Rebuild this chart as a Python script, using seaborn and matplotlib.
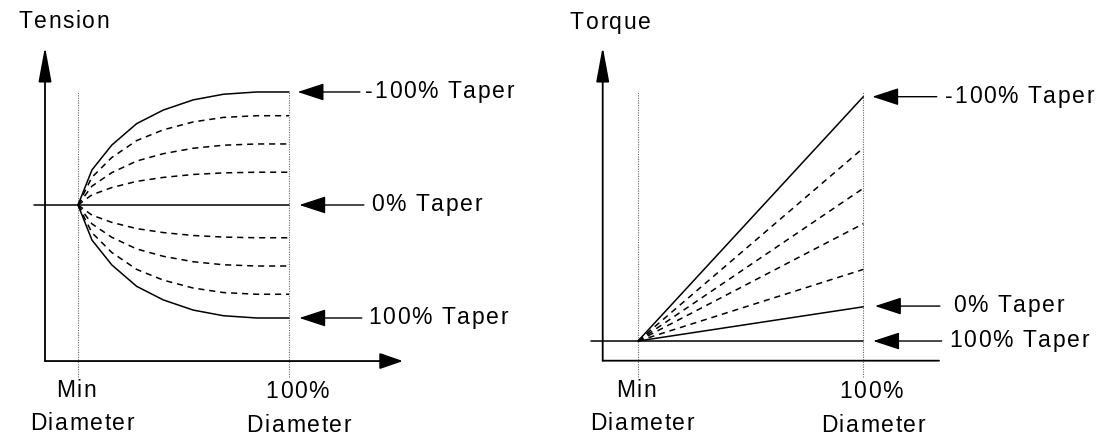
import pandas as pd
import seaborn as sns
import matplotlib
matplotlib.use('Agg')
import matplotlib.pyplot as plt
from matplotlib.font_manager import FontProperties, findfont
from matplotlib.ft2font import FT2Font
from matplotlib.transforms import ScaledTranslation

# diameter axis: 0 = min diameter, 1 = 100% diameter
diameter = [0.0, 0.066, 0.16, 0.278, 0.404, 0.546, 0.689, 0.847, 1.0]

# tension curves (1 = -100% taper at full diameter)
tension_m100 = [0.0, 0.31, 0.53, 0.72, 0.84, 0.93, 0.98, 1.0, 1.0]
tension_m75 = [0.0, 0.245, 0.42, 0.57, 0.665, 0.735, 0.775, 0.79, 0.79]
tension_m50 = [0.0, 0.167, 0.286, 0.389, 0.454, 0.502, 0.529, 0.54, 0.54]
tension_m25 = [0.0, 0.09, 0.154, 0.209, 0.244, 0.27, 0.284, 0.29, 0.29]
tension_p25 = [0.0, -0.09, -0.154, -0.209, -0.244, -0.27, -0.284, -0.29, -0.29]
tension_p50 = [0.0, -0.167, -0.286, -0.389, -0.454, -0.502, -0.529, -0.54, -0.54]
tension_p75 = [0.0, -0.245, -0.42, -0.57, -0.665, -0.735, -0.775, -0.79, -0.79]
tension_p100 = [0.0, -0.31, -0.53, -0.72, -0.84, -0.93, -0.98, -1.0, -1.0]

# flat lines start left of the vertical axis
flat_diameter = [-0.21, 1.0]
tension_0 = [0.0, 0.0]

# torque: straight lines from min diameter to 100% diameter
torque_diameter = [0.0, 1.0]
torque_start = 0.0
torque_end = [1.0, 0.79, 0.625, 0.48, 0.293, 0.14]
torque_kind = ['solid', 'dashed', 'dashed', 'dashed', 'dashed', 'solid']
torque_100 = [0.0, 0.0]

tension_labels = ['-100% Taper', '0% Taper', '100% Taper']
torque_labels = ['-100% Taper', '0% Taper', '100% Taper']
tension_label_y = [1.0, 0.0, -1.0]
torque_label_y = [1.0, 0.143, 0.0]

sns.set_style('white')
plt.rcParams['font.family'] = ['Liberation Sans', 'DejaVu Sans']

SIZE = 16.5
FONT = FontProperties(family='Liberation Sans', size=SIZE)
ft = FT2Font(findfont(FONT))
ft.set_size(SIZE, 72)


def advance(ch):
    return ft.load_char(ord(ch)).linearHoriAdvance / 65536


def spaced_text(ax, x, y, s, ha='left', dy=0.0, track=1.2):
    # the reference uses letter-spaced type, so place glyph by glyph
    widths = [advance(c) for c in s]
    total = sum(widths) + track * (len(s) - 1)
    x0 = -total / 2 if ha == 'center' else 0.0
    for c, w in zip(s, widths):
        if c != ' ':
            off = ScaledTranslation(x0 / 72, dy / 72, ax.figure.dpi_scale_trans)
            ax.text(x, y, c, transform=ax.transData + off, fontproperties=FONT,
                    ha='left', va='baseline', color='black')
        x0 += w + track


def curves(xs, ys, kinds):
    parts = []
    for i, (x, y, k) in enumerate(zip(xs, ys, kinds)):
        parts.append(pd.DataFrame({'diameter': x, 'value': y, 'curve': i, 'kind': k}))
    return pd.concat(parts, ignore_index=True)


def draw_lines(ax, df):
    sns.lineplot(data=df, x='diameter', y='value', units='curve', estimator=None, sort=False,
                 style='kind', dashes={'solid': '', 'dashed': (4.0, 3.2)},
                 color='black', lw=1.1, legend=False, ax=ax)


def arrow(ax, tip, tail, length, half, lw):
    ax.annotate('', xy=tip, xytext=tail,
                arrowprops=dict(arrowstyle='-|>,head_length=%g,head_width=%g' % (length, half),
                                mutation_scale=1, lw=lw, color='black', fc='black',
                                shrinkA=0, shrinkB=0))


fig = plt.figure(figsize=(10.97, 4.38), dpi=100)
ax1 = fig.add_axes([0, 0, 548 / 1097, 1])
ax2 = fig.add_axes([548 / 1097, 0, 549 / 1097, 1])

# ---- Tension ----
ax1.set_xlim(-0.3697, 2.2275)
ax1.set_ylim(-2.062, 1.814)
ax1.axis('off')
ax1.vlines([0, 1], -1.52, 1.003, colors='0.4', linestyles=(0, (1, 1.2)), lw=0.8)
tension = curves([diameter] * 8 + [flat_diameter],
                 [tension_m100, tension_m75, tension_m50, tension_m25,
                  tension_p25, tension_p50, tension_p75, tension_p100, tension_0],
                 ['solid', 'dashed', 'dashed', 'dashed', 'dashed', 'dashed', 'dashed', 'solid', 'solid'])
draw_lines(ax1, tension)
arrow(ax1, (-0.1564, 1.401), (-0.1564, -1.381), 21.6, 4.0, 1.3)
arrow(ax1, (1.540, -1.381), (-0.1564, -1.381), 14.4, 5.0, 1.3)
for lab, y, tip, tail, tx in zip(tension_labels, tension_label_y,
                                 [1.041, 1.049, 1.049], [1.336, 1.355, 1.345],
                                 [1.360, 1.389, 1.374]):
    arrow(ax1, (tip, y), (tail, y), 16.5, 5.4, 1.0)
    spaced_text(ax1, tx, y, lab, dy=-4.4)
spaced_text(ax1, -0.284, 1.564, 'Tension')
spaced_text(ax1, -0.0095, -1.699, 'Min', ha='center')
spaced_text(ax1, 0.019, -1.991, 'Diameter', ha='center')
spaced_text(ax1, 1.038, -1.708, '100%', ha='center')
spaced_text(ax1, 1.047, -2.009, 'Diameter', ha='center')

# ---- Torque ----
ax2.set_xlim(-0.3995, 2.0373)
ax2.set_ylim(-0.397, 1.3958)
ax2.axis('off')
ax2.vlines([0, 1], -0.147, 1.02, colors='0.4', linestyles=(0, (1, 1.2)), lw=0.8)
torque = curves([torque_diameter] * len(torque_end) + [flat_diameter],
                [[torque_start, e] for e in torque_end] + [torque_100],
                torque_kind + ['solid'])
draw_lines(ax2, torque)
arrow(ax2, (-0.1567, 1.2047), (-0.1567, -0.0806), 21.6, 4.0, 1.3)
ax2.annotate('', xy=(1.336, -0.0806), xytext=(-0.1567, -0.0806),
             arrowprops=dict(arrowstyle='-', lw=1.3, color='black', shrinkA=0, shrinkB=0))
for lab, y, tip, tail, tx in zip(torque_labels, torque_label_y,
                                 [1.040, 1.052, 1.044], [1.326, 1.340, 1.348],
                                 [1.363, 1.397, 1.380]):
    arrow(ax2, (tip, y), (tail, y), 16.5, 5.4, 1.0)
    spaced_text(ax2, tx, y, lab, dy=-4.4)
spaced_text(ax2, -0.302, 1.277, 'Torque')
spaced_text(ax2, -0.0089, -0.229, 'Min', ha='center')
spaced_text(ax2, 0.0178, -0.364, 'Diameter', ha='center')
spaced_text(ax2, 1.034, -0.233, '100%', ha='center')
spaced_text(ax2, 1.043, -0.3725, 'Diameter', ha='center')

fig.savefig('out.png', dpi=100)
